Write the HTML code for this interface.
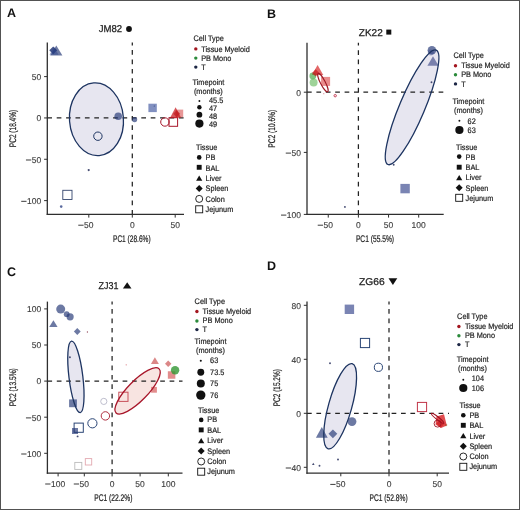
<!DOCTYPE html><html><head><meta charset="utf-8"><style>html,body{margin:0;padding:0;background:#fff;}svg{display:block;will-change:transform;}text{font-family:"Liberation Sans",sans-serif;text-rendering:geometricPrecision;}</style></head><body>
<svg width="520" height="510" viewBox="0 0 520 510">
<rect x="0" y="0" width="520" height="510" fill="#fff"/>
<ellipse cx="96.46" cy="119.25" rx="26.98" ry="36.4" transform="rotate(-4.37 96.46 119.25)" fill="#e7e6f0"/>
<line x1="132.3" y1="42.6" x2="132.3" y2="214.4" stroke="#222" stroke-width="1.25" stroke-dasharray="4.7 4.7" stroke-dashoffset="1.9"/>
<line x1="47.3" y1="117.95" x2="184" y2="117.95" stroke="#222" stroke-width="1.25" stroke-dasharray="4.7 4.7"/>
<polygon points="56.3,45.4 62.4,55.6 50.2,55.6" fill="rgba(32,52,115,0.66)"/>
<polygon points="53.2,46.4 57.1,50.3 53.2,54.2 49.3,50.3" fill="rgba(25,45,110,0.8)"/>
<polygon points="54,46.8 58.5,54.8 49.5,54.8" fill="rgba(45,70,140,0.5)"/>
<circle cx="118.2" cy="116.2" r="3.8" fill="rgba(32,52,115,0.66)"/>
<circle cx="134.6" cy="119.6" r="2.6" fill="rgba(32,52,115,0.66)"/>
<circle cx="97.9" cy="136.2" r="4.2" fill="none" stroke="#1d3461" stroke-width="1.0"/>
<circle cx="88.7" cy="170.1" r="1.1" fill="rgba(50,58,100,0.9)"/>
<rect x="62.8" y="190.3" width="9.2" height="9.2" fill="none" stroke="#34466e" stroke-width="0.9"/>
<circle cx="61.2" cy="206.6" r="1.3" fill="rgba(50,70,135,0.8)"/>
<rect x="148.4" y="103.7" width="8.4" height="8.4" fill="rgba(45,70,150,0.6)"/>
<circle cx="154.3" cy="106" r="0.6" fill="rgba(30,50,110,0.8)"/>
<circle cx="164.9" cy="122" r="4.2" fill="none" stroke="#a8162a" stroke-width="1.0"/>
<rect x="169" y="117.7" width="8.6" height="8.6" fill="none" stroke="#a8162a" stroke-width="1.0"/>
<rect x="175.6" y="109.6" width="7.6" height="7.6" fill="rgba(215,80,80,0.6)"/>
<polygon points="175.6,107.25 181.1,117.75 170.1,117.75" fill="rgba(200,25,30,0.72)"/>
<polygon points="176.7,110.3 180.2,113.8 176.7,117.3 173.2,113.8" fill="rgba(190,20,25,0.6)"/>
<ellipse cx="96.46" cy="119.25" rx="26.98" ry="36.4" transform="rotate(-4.37 96.46 119.25)" fill="none" stroke="#1d3461" stroke-width="1.3"/>
<line x1="47.3" y1="42.6" x2="47.3" y2="215" stroke="#2e2e2e" stroke-width="1.3"/>
<line x1="46.7" y1="214.4" x2="184" y2="214.4" stroke="#2e2e2e" stroke-width="1.3"/>
<line x1="44.1" y1="76.62" x2="47.3" y2="76.62" stroke="#2e2e2e" stroke-width="1.0"/>
<text x="41.2" y="79.92" font-size="8.5" fill="#3c3c3c" text-anchor="end" stroke="#3c3c3c" stroke-width="0.12">50</text>
<line x1="44.1" y1="117.95" x2="47.3" y2="117.95" stroke="#2e2e2e" stroke-width="1.0"/>
<text x="41.2" y="121.25" font-size="8.5" fill="#3c3c3c" text-anchor="end" stroke="#3c3c3c" stroke-width="0.12">0</text>
<line x1="44.1" y1="159.28" x2="47.3" y2="159.28" stroke="#2e2e2e" stroke-width="1.0"/>
<text x="41.2" y="162.59" font-size="8.5" fill="#3c3c3c" text-anchor="end" stroke="#3c3c3c" stroke-width="0.12">50</text>
<rect x="25.95" y="159.49" width="5.3" height="1.0" fill="#3c3c3c"/>
<line x1="44.1" y1="200.62" x2="47.3" y2="200.62" stroke="#2e2e2e" stroke-width="1.0"/>
<text x="41.2" y="203.92" font-size="8.5" fill="#3c3c3c" text-anchor="end" stroke="#3c3c3c" stroke-width="0.12">100</text>
<rect x="21.22" y="200.82" width="5.3" height="1.0" fill="#3c3c3c"/>
<line x1="88.8" y1="214.4" x2="88.8" y2="217.6" stroke="#2e2e2e" stroke-width="1.0"/>
<text x="88.8" y="227.8" font-size="8.5" fill="#3c3c3c" text-anchor="middle" stroke="#3c3c3c" stroke-width="0.12">50</text>
<rect x="78.27" y="224.7" width="5.3" height="1.0" fill="#3c3c3c"/>
<line x1="132.3" y1="214.4" x2="132.3" y2="217.6" stroke="#2e2e2e" stroke-width="1.0"/>
<text x="132.3" y="227.8" font-size="8.5" fill="#3c3c3c" text-anchor="middle" stroke="#3c3c3c" stroke-width="0.12">0</text>
<line x1="175.2" y1="214.4" x2="175.2" y2="217.6" stroke="#2e2e2e" stroke-width="1.0"/>
<text x="175.2" y="227.8" font-size="8.5" fill="#3c3c3c" text-anchor="middle" stroke="#3c3c3c" stroke-width="0.12">50</text>
<text x="131.8" y="241.5" font-size="9.6" fill="#1e1e1e" text-anchor="middle" textLength="37.6" lengthAdjust="spacingAndGlyphs" stroke="#1e1e1e" stroke-width="0.22">PC1 (28.6%)</text>
<text transform="translate(16.2 128.5) rotate(-90)" font-size="9.6" fill="#1e1e1e" stroke="#1e1e1e" stroke-width="0.22" text-anchor="middle" textLength="37.4" lengthAdjust="spacingAndGlyphs">PC2 (18.4%)</text>
<text x="98.8" y="31.9" font-size="9.9" fill="#1e1e1e" textLength="23.4" lengthAdjust="spacingAndGlyphs" stroke="#1e1e1e" stroke-width="0.25">JM82</text>
<circle cx="129" cy="29" r="2.9" fill="#111"/>
<text x="7" y="17.4" font-size="12.5" fill="#111" font-weight="bold">A</text>
<text transform="translate(193.5 41) scale(0.915 1)" font-size="8.0" fill="#1e1e1e" stroke="#1e1e1e" stroke-width="0.2">Cell Type</text>
<circle cx="195.8" cy="48.9" r="1.7" fill="#a3161f"/>
<text transform="translate(201.2 51.7) scale(0.915 1)" font-size="8.0" fill="#1e1e1e" stroke="#1e1e1e" stroke-width="0.2">Tissue Myeloid</text>
<circle cx="195.8" cy="58.1" r="1.7" fill="#2a8a3a"/>
<text transform="translate(201.2 60.9) scale(0.915 1)" font-size="8.0" fill="#1e1e1e" stroke="#1e1e1e" stroke-width="0.2">PB Mono</text>
<circle cx="195.8" cy="67.1" r="1.7" fill="#1c2645"/>
<text transform="translate(201.2 69.8) scale(0.915 1)" font-size="8.0" fill="#1e1e1e" stroke="#1e1e1e" stroke-width="0.2">T</text>
<text transform="translate(192.5 84.9) scale(0.915 1)" font-size="8.0" fill="#1e1e1e" stroke="#1e1e1e" stroke-width="0.2">Timepoint</text>
<text transform="translate(193.9 94.2) scale(0.915 1)" font-size="8.0" fill="#1e1e1e" stroke="#1e1e1e" stroke-width="0.2">(months)</text>
<circle cx="199.4" cy="101" r="0.95" fill="#111"/>
<text transform="translate(209 103.3) scale(0.915 1)" font-size="8.0" fill="#1e1e1e" stroke="#1e1e1e" stroke-width="0.2">45.5</text>
<circle cx="199.4" cy="107.2" r="2.2" fill="#111"/>
<text transform="translate(209 110.6) scale(0.915 1)" font-size="8.0" fill="#1e1e1e" stroke="#1e1e1e" stroke-width="0.2">47</text>
<circle cx="199.4" cy="114.7" r="2.9" fill="#111"/>
<text transform="translate(209 118.5) scale(0.915 1)" font-size="8.0" fill="#1e1e1e" stroke="#1e1e1e" stroke-width="0.2">48</text>
<circle cx="199.4" cy="123.6" r="4.1" fill="#111"/>
<text transform="translate(209 127) scale(0.915 1)" font-size="8.0" fill="#1e1e1e" stroke="#1e1e1e" stroke-width="0.2">49</text>
<text transform="translate(196 150.1) scale(0.915 1)" font-size="8.0" fill="#1e1e1e" stroke="#1e1e1e" stroke-width="0.2">Tissue</text>
<circle cx="199.2" cy="157.4" r="2.3" fill="#111"/>
<text transform="translate(205.6 159.8) scale(0.915 1)" font-size="8.0" fill="#1e1e1e" stroke="#1e1e1e" stroke-width="0.2">PB</text>
<rect x="196.75" y="164.85" width="4.9" height="4.9" fill="#111"/>
<text transform="translate(205.6 170.8) scale(0.915 1)" font-size="8.0" fill="#1e1e1e" stroke="#1e1e1e" stroke-width="0.2">BAL</text>
<polygon points="199.2,175.55 202.3,180.85 196.1,180.85" fill="#111"/>
<text transform="translate(205.6 181) scale(0.915 1)" font-size="8.0" fill="#1e1e1e" stroke="#1e1e1e" stroke-width="0.2">Liver</text>
<polygon points="199.2,185.1 202.7,188.6 199.2,192.1 195.7,188.6" fill="#111"/>
<text transform="translate(205.6 191.4) scale(0.915 1)" font-size="8.0" fill="#1e1e1e" stroke="#1e1e1e" stroke-width="0.2">Spleen</text>
<circle cx="199.2" cy="198.9" r="3.5" fill="none" stroke="#111" stroke-width="0.9"/>
<text transform="translate(205.6 201.5) scale(0.915 1)" font-size="8.0" fill="#1e1e1e" stroke="#1e1e1e" stroke-width="0.2">Colon</text>
<rect x="195.7" y="205.8" width="7" height="7" fill="none" stroke="#111" stroke-width="0.9"/>
<text transform="translate(205.6 212) scale(0.915 1)" font-size="8.0" fill="#1e1e1e" stroke="#1e1e1e" stroke-width="0.2">Jejunum</text>
<ellipse cx="412.08" cy="107.29" rx="12.6" ry="62.1" transform="rotate(22.85 412.08 107.29)" fill="#e7e6f0"/>
<line x1="358.4" y1="42.7" x2="358.4" y2="214.4" stroke="#222" stroke-width="1.25" stroke-dasharray="4.7 4.7" stroke-dashoffset="1.9"/>
<line x1="307" y1="92.2" x2="443.7" y2="92.2" stroke="#222" stroke-width="1.25" stroke-dasharray="4.7 4.7"/>
<polygon points="317.6,65.1 323.3,74.9 311.9,74.9" fill="rgba(215,40,40,0.7)"/>
<rect x="321.1" y="76.9" width="9" height="9" fill="rgba(220,70,70,0.62)"/>
<circle cx="312.8" cy="76" r="3.4" fill="rgba(50,160,50,0.62)"/>
<circle cx="313.6" cy="82.6" r="4" fill="rgba(80,175,70,0.55)"/>
<polygon points="315.6,69.3 319.2,72.9 315.6,76.5 312,72.9" fill="rgba(200,25,30,0.7)"/>
<ellipse cx="322.9" cy="82.6" rx="2.4" ry="10.3" transform="rotate(-27.5 322.9 82.6)" fill="none" stroke="#9e1a26" stroke-width="1.1"/>
<circle cx="335.2" cy="95.7" r="1.2" fill="none" stroke="#c0304a" stroke-width="0.9"/>
<circle cx="323.8" cy="93.7" r="0.6" fill="rgba(200,60,80,0.6)"/>
<circle cx="431.9" cy="50.2" r="4.3" fill="rgba(32,52,115,0.66)"/>
<circle cx="430.8" cy="52.4" r="3" fill="rgba(40,60,130,0.35)"/>
<polygon points="433,56.15 438.6,65.85 427.4,65.85" fill="rgba(70,80,140,0.68)"/>
<circle cx="431.5" cy="82.2" r="0.95" fill="rgba(50,58,100,0.9)"/>
<circle cx="393.7" cy="164.7" r="0.95" fill="rgba(50,58,100,0.9)"/>
<rect x="400.4" y="183.9" width="9.4" height="9.4" fill="rgba(70,85,150,0.72)"/>
<circle cx="344.9" cy="206.9" r="0.95" fill="rgba(50,58,100,0.9)"/>
<ellipse cx="412.08" cy="107.29" rx="12.6" ry="62.1" transform="rotate(22.85 412.08 107.29)" fill="none" stroke="#1d3461" stroke-width="1.3"/>
<line x1="307" y1="42.7" x2="307" y2="215" stroke="#2e2e2e" stroke-width="1.3"/>
<line x1="306.4" y1="214.4" x2="443.7" y2="214.4" stroke="#2e2e2e" stroke-width="1.3"/>
<line x1="303.8" y1="92.2" x2="307" y2="92.2" stroke="#2e2e2e" stroke-width="1.0"/>
<text x="301" y="95.5" font-size="8.5" fill="#3c3c3c" text-anchor="end" stroke="#3c3c3c" stroke-width="0.12">0</text>
<line x1="303.8" y1="152.4" x2="307" y2="152.4" stroke="#2e2e2e" stroke-width="1.0"/>
<text x="301" y="155.7" font-size="8.5" fill="#3c3c3c" text-anchor="end" stroke="#3c3c3c" stroke-width="0.12">50</text>
<rect x="285.75" y="152.6" width="5.3" height="1.0" fill="#3c3c3c"/>
<line x1="303.8" y1="214.4" x2="307" y2="214.4" stroke="#2e2e2e" stroke-width="1.0"/>
<text x="301" y="217.7" font-size="8.5" fill="#3c3c3c" text-anchor="end" stroke="#3c3c3c" stroke-width="0.12">100</text>
<rect x="281.02" y="214.6" width="5.3" height="1.0" fill="#3c3c3c"/>
<line x1="328.25" y1="214.4" x2="328.25" y2="217.6" stroke="#2e2e2e" stroke-width="1.0"/>
<text x="328.25" y="227.8" font-size="8.5" fill="#3c3c3c" text-anchor="middle" stroke="#3c3c3c" stroke-width="0.12">50</text>
<rect x="317.72" y="224.7" width="5.3" height="1.0" fill="#3c3c3c"/>
<line x1="358.4" y1="214.4" x2="358.4" y2="217.6" stroke="#2e2e2e" stroke-width="1.0"/>
<text x="358.4" y="227.8" font-size="8.5" fill="#3c3c3c" text-anchor="middle" stroke="#3c3c3c" stroke-width="0.12">0</text>
<line x1="388.55" y1="214.4" x2="388.55" y2="217.6" stroke="#2e2e2e" stroke-width="1.0"/>
<text x="388.55" y="227.8" font-size="8.5" fill="#3c3c3c" text-anchor="middle" stroke="#3c3c3c" stroke-width="0.12">50</text>
<line x1="418.7" y1="214.4" x2="418.7" y2="217.6" stroke="#2e2e2e" stroke-width="1.0"/>
<text x="418.7" y="227.8" font-size="8.5" fill="#3c3c3c" text-anchor="middle" stroke="#3c3c3c" stroke-width="0.12">100</text>
<text x="375" y="241.5" font-size="9.6" fill="#1e1e1e" text-anchor="middle" textLength="38.2" lengthAdjust="spacingAndGlyphs" stroke="#1e1e1e" stroke-width="0.22">PC1 (55.5%)</text>
<text transform="translate(275.3 128.75) rotate(-90)" font-size="9.6" fill="#1e1e1e" stroke="#1e1e1e" stroke-width="0.22" text-anchor="middle" textLength="37.9" lengthAdjust="spacingAndGlyphs">PC2 (10.6%)</text>
<text x="358.8" y="35.7" font-size="9.9" fill="#1e1e1e" textLength="23.9" lengthAdjust="spacingAndGlyphs" stroke="#1e1e1e" stroke-width="0.25">ZK22</text>
<rect x="386.3" y="29.6" width="5" height="5" fill="#111"/>
<text x="266.9" y="17.6" font-size="12.5" fill="#111" font-weight="bold">B</text>
<text transform="translate(453.5 58.1) scale(0.915 1)" font-size="8.0" fill="#1e1e1e" stroke="#1e1e1e" stroke-width="0.2">Cell Type</text>
<circle cx="455.5" cy="65.8" r="1.7" fill="#a3161f"/>
<text transform="translate(461.2 68.4) scale(0.915 1)" font-size="8.0" fill="#1e1e1e" stroke="#1e1e1e" stroke-width="0.2">Tissue Myeloid</text>
<circle cx="455.5" cy="74.7" r="1.7" fill="#2a8a3a"/>
<text transform="translate(461.2 77.3) scale(0.915 1)" font-size="8.0" fill="#1e1e1e" stroke="#1e1e1e" stroke-width="0.2">PB Mono</text>
<circle cx="455.5" cy="83.9" r="1.7" fill="#1c2645"/>
<text transform="translate(461.2 86.5) scale(0.915 1)" font-size="8.0" fill="#1e1e1e" stroke="#1e1e1e" stroke-width="0.2">T</text>
<text transform="translate(452.5 103.5) scale(0.915 1)" font-size="8.0" fill="#1e1e1e" stroke="#1e1e1e" stroke-width="0.2">Timepoint</text>
<text transform="translate(454 112.8) scale(0.915 1)" font-size="8.0" fill="#1e1e1e" stroke="#1e1e1e" stroke-width="0.2">(months)</text>
<circle cx="459.4" cy="120.7" r="0.95" fill="#111"/>
<text transform="translate(467.6 123.5) scale(0.915 1)" font-size="8.0" fill="#1e1e1e" stroke="#1e1e1e" stroke-width="0.2">62</text>
<circle cx="459.4" cy="130" r="4.1" fill="#111"/>
<text transform="translate(467.6 133.2) scale(0.915 1)" font-size="8.0" fill="#1e1e1e" stroke="#1e1e1e" stroke-width="0.2">63</text>
<text transform="translate(456 149.6) scale(0.915 1)" font-size="8.0" fill="#1e1e1e" stroke="#1e1e1e" stroke-width="0.2">Tissue</text>
<circle cx="459.2" cy="156.6" r="2.3" fill="#111"/>
<text transform="translate(465.6 159.6) scale(0.915 1)" font-size="8.0" fill="#1e1e1e" stroke="#1e1e1e" stroke-width="0.2">PB</text>
<rect x="456.75" y="164.75" width="4.9" height="4.9" fill="#111"/>
<text transform="translate(465.6 169.9) scale(0.915 1)" font-size="8.0" fill="#1e1e1e" stroke="#1e1e1e" stroke-width="0.2">BAL</text>
<polygon points="459.2,174.95 462.3,180.25 456.1,180.25" fill="#111"/>
<text transform="translate(465.6 180.2) scale(0.915 1)" font-size="8.0" fill="#1e1e1e" stroke="#1e1e1e" stroke-width="0.2">Liver</text>
<polygon points="459.2,184.2 462.7,187.7 459.2,191.2 455.7,187.7" fill="#111"/>
<text transform="translate(465.6 190.5) scale(0.915 1)" font-size="8.0" fill="#1e1e1e" stroke="#1e1e1e" stroke-width="0.2">Spleen</text>
<rect x="455.7" y="194.3" width="7" height="7" fill="none" stroke="#111" stroke-width="0.9"/>
<text transform="translate(465.6 200.5) scale(0.915 1)" font-size="8.0" fill="#1e1e1e" stroke="#1e1e1e" stroke-width="0.2">Jejunum</text>
<ellipse cx="75.9" cy="376.88" rx="6.93" ry="36.03" transform="rotate(-6.95 75.9 376.88)" fill="#e7e6f0"/>
<ellipse cx="137.6" cy="390.9" rx="9.9" ry="30.8" transform="rotate(44.29 137.6 390.9)" fill="#f8e4e1"/>
<line x1="112.1" y1="301.6" x2="112.1" y2="473.2" stroke="#222" stroke-width="1.25" stroke-dasharray="4.7 4.7" stroke-dashoffset="1.9"/>
<line x1="47.4" y1="381.1" x2="182.5" y2="381.1" stroke="#222" stroke-width="1.25" stroke-dasharray="4.7 4.7"/>
<circle cx="60.7" cy="309.1" r="4.5" fill="rgba(32,52,115,0.66)"/>
<circle cx="66.7" cy="314.2" r="2.9" fill="rgba(32,52,115,0.66)"/>
<circle cx="70.1" cy="316.8" r="3.6" fill="rgba(32,52,115,0.66)"/>
<polygon points="53.4,320.2 57.6,327 49.2,327" fill="rgba(32,52,115,0.66)"/>
<polygon points="77.3,328.1 80.7,331.5 77.3,334.9 73.9,331.5" fill="rgba(32,52,115,0.66)"/>
<circle cx="87.4" cy="332" r="0.65" fill="rgba(120,30,50,0.8)"/>
<circle cx="69.9" cy="357.3" r="0.95" fill="rgba(50,58,100,0.9)"/>
<circle cx="126.2" cy="364.8" r="0.6" fill="rgba(200,60,70,0.7)"/>
<rect x="69.1" y="399.4" width="7.8" height="7.8" fill="rgba(32,52,115,0.66)"/>
<circle cx="103.8" cy="401.4" r="3.1" fill="none" stroke="#b8b8c8" stroke-width="0.9"/>
<circle cx="105.4" cy="415.9" r="4.2" fill="none" stroke="#b03040" stroke-width="1.0"/>
<circle cx="92.4" cy="423.3" r="4.6" fill="none" stroke="#2a4575" stroke-width="1.0"/>
<rect x="74.1" y="423.1" width="9.2" height="9.2" fill="none" stroke="#2a4575" stroke-width="1.0"/>
<rect x="72" y="428" width="6" height="6" fill="rgba(32,52,115,0.66)"/>
<circle cx="77.6" cy="436.4" r="0.95" fill="rgba(50,58,100,0.9)"/>
<rect x="74.8" y="462.4" width="7" height="7" fill="none" stroke="#bbbbbb" stroke-width="0.9"/>
<rect x="85.3" y="458.6" width="6.4" height="6.4" fill="none" stroke="#e2a8b0" stroke-width="0.9"/>
<polygon points="154.9,357.3 158.9,363.9 150.9,363.9" fill="rgba(200,70,70,0.65)"/>
<polygon points="168.2,360.6 171.4,363.8 168.2,367 165,363.8" fill="rgba(200,70,70,0.65)"/>
<rect x="167.85" y="371.25" width="7.5" height="7.5" fill="rgba(210,80,80,0.65)"/>
<circle cx="175.1" cy="370.3" r="4.2" fill="rgba(50,150,50,0.8)"/>
<rect x="151.1" y="386.9" width="5.8" height="5.8" fill="rgba(210,80,80,0.65)"/>
<rect x="118.8" y="392.2" width="9.2" height="9.2" fill="none" stroke="#c8505a" stroke-width="1.0"/>
<ellipse cx="75.9" cy="376.88" rx="6.93" ry="36.03" transform="rotate(-6.95 75.9 376.88)" fill="none" stroke="#1d3461" stroke-width="1.3"/>
<ellipse cx="137.6" cy="390.9" rx="9.9" ry="30.8" transform="rotate(44.29 137.6 390.9)" fill="none" stroke="#a8162a" stroke-width="1.3"/>
<line x1="47.4" y1="301.6" x2="47.4" y2="473.8" stroke="#2e2e2e" stroke-width="1.3"/>
<line x1="46.8" y1="473.2" x2="182.5" y2="473.2" stroke="#2e2e2e" stroke-width="1.3"/>
<line x1="44.2" y1="308.9" x2="47.4" y2="308.9" stroke="#2e2e2e" stroke-width="1.0"/>
<text x="41.2" y="312.2" font-size="8.5" fill="#3c3c3c" text-anchor="end" stroke="#3c3c3c" stroke-width="0.12">100</text>
<line x1="44.2" y1="345" x2="47.4" y2="345" stroke="#2e2e2e" stroke-width="1.0"/>
<text x="41.2" y="348.3" font-size="8.5" fill="#3c3c3c" text-anchor="end" stroke="#3c3c3c" stroke-width="0.12">50</text>
<line x1="44.2" y1="381.1" x2="47.4" y2="381.1" stroke="#2e2e2e" stroke-width="1.0"/>
<text x="41.2" y="384.4" font-size="8.5" fill="#3c3c3c" text-anchor="end" stroke="#3c3c3c" stroke-width="0.12">0</text>
<line x1="44.2" y1="417.2" x2="47.4" y2="417.2" stroke="#2e2e2e" stroke-width="1.0"/>
<text x="41.2" y="420.5" font-size="8.5" fill="#3c3c3c" text-anchor="end" stroke="#3c3c3c" stroke-width="0.12">50</text>
<rect x="25.95" y="417.4" width="5.3" height="1.0" fill="#3c3c3c"/>
<line x1="44.2" y1="453.3" x2="47.4" y2="453.3" stroke="#2e2e2e" stroke-width="1.0"/>
<text x="41.2" y="456.6" font-size="8.5" fill="#3c3c3c" text-anchor="end" stroke="#3c3c3c" stroke-width="0.12">100</text>
<rect x="21.22" y="453.5" width="5.3" height="1.0" fill="#3c3c3c"/>
<line x1="58.1" y1="473.2" x2="58.1" y2="476.4" stroke="#2e2e2e" stroke-width="1.0"/>
<text x="58.1" y="486.6" font-size="8.5" fill="#3c3c3c" text-anchor="middle" stroke="#3c3c3c" stroke-width="0.12">100</text>
<rect x="45.21" y="483.5" width="5.3" height="1.0" fill="#3c3c3c"/>
<line x1="84.3" y1="473.2" x2="84.3" y2="476.4" stroke="#2e2e2e" stroke-width="1.0"/>
<text x="84.3" y="486.6" font-size="8.5" fill="#3c3c3c" text-anchor="middle" stroke="#3c3c3c" stroke-width="0.12">50</text>
<rect x="73.77" y="483.5" width="5.3" height="1.0" fill="#3c3c3c"/>
<line x1="112.1" y1="473.2" x2="112.1" y2="476.4" stroke="#2e2e2e" stroke-width="1.0"/>
<text x="112.1" y="486.6" font-size="8.5" fill="#3c3c3c" text-anchor="middle" stroke="#3c3c3c" stroke-width="0.12">0</text>
<line x1="140.1" y1="473.2" x2="140.1" y2="476.4" stroke="#2e2e2e" stroke-width="1.0"/>
<text x="140.1" y="486.6" font-size="8.5" fill="#3c3c3c" text-anchor="middle" stroke="#3c3c3c" stroke-width="0.12">50</text>
<line x1="168.3" y1="473.2" x2="168.3" y2="476.4" stroke="#2e2e2e" stroke-width="1.0"/>
<text x="168.3" y="486.6" font-size="8.5" fill="#3c3c3c" text-anchor="middle" stroke="#3c3c3c" stroke-width="0.12">100</text>
<text x="113.35" y="501" font-size="9.6" fill="#1e1e1e" text-anchor="middle" textLength="38.2" lengthAdjust="spacingAndGlyphs" stroke="#1e1e1e" stroke-width="0.22">PC1 (22.2%)</text>
<text transform="translate(15.6 387.2) rotate(-90)" font-size="9.6" fill="#1e1e1e" stroke="#1e1e1e" stroke-width="0.22" text-anchor="middle" textLength="37.9" lengthAdjust="spacingAndGlyphs">PC2 (13.5%)</text>
<text x="98.5" y="288.7" font-size="9.9" fill="#1e1e1e" textLength="19.9" lengthAdjust="spacingAndGlyphs" stroke="#1e1e1e" stroke-width="0.25">ZJ31</text>
<polygon points="127.2,282.2 131.5,288.6 122.9,288.6" fill="#111"/>
<text x="6.9" y="275.8" font-size="12.5" fill="#111" font-weight="bold">C</text>
<text transform="translate(194.6 303.5) scale(0.915 1)" font-size="8.0" fill="#1e1e1e" stroke="#1e1e1e" stroke-width="0.2">Cell Type</text>
<circle cx="196.9" cy="311.5" r="1.7" fill="#a3161f"/>
<text transform="translate(202.6 314.1) scale(0.915 1)" font-size="8.0" fill="#1e1e1e" stroke="#1e1e1e" stroke-width="0.2">Tissue Myeloid</text>
<circle cx="196.9" cy="321" r="1.7" fill="#2a8a3a"/>
<text transform="translate(202.6 323.4) scale(0.915 1)" font-size="8.0" fill="#1e1e1e" stroke="#1e1e1e" stroke-width="0.2">PB Mono</text>
<circle cx="196.9" cy="329.6" r="1.7" fill="#1c2645"/>
<text transform="translate(202.6 332.4) scale(0.915 1)" font-size="8.0" fill="#1e1e1e" stroke="#1e1e1e" stroke-width="0.2">T</text>
<text transform="translate(194.6 343.7) scale(0.915 1)" font-size="8.0" fill="#1e1e1e" stroke="#1e1e1e" stroke-width="0.2">Timepoint</text>
<text transform="translate(196 352.5) scale(0.915 1)" font-size="8.0" fill="#1e1e1e" stroke="#1e1e1e" stroke-width="0.2">(months)</text>
<circle cx="200.8" cy="360.8" r="1.05" fill="#111"/>
<text transform="translate(210.1 362.8) scale(0.915 1)" font-size="8.0" fill="#1e1e1e" stroke="#1e1e1e" stroke-width="0.2">63</text>
<circle cx="200.8" cy="372.2" r="3.45" fill="#111"/>
<text transform="translate(210.1 374.5) scale(0.915 1)" font-size="8.0" fill="#1e1e1e" stroke="#1e1e1e" stroke-width="0.2">73.5</text>
<circle cx="200.8" cy="383.4" r="4" fill="#111"/>
<text transform="translate(210.1 385.9) scale(0.915 1)" font-size="8.0" fill="#1e1e1e" stroke="#1e1e1e" stroke-width="0.2">75</text>
<circle cx="200.8" cy="395.1" r="4.65" fill="#111"/>
<text transform="translate(210.1 398.3) scale(0.915 1)" font-size="8.0" fill="#1e1e1e" stroke="#1e1e1e" stroke-width="0.2">76</text>
<text transform="translate(198 412.6) scale(0.915 1)" font-size="8.0" fill="#1e1e1e" stroke="#1e1e1e" stroke-width="0.2">Tissue</text>
<circle cx="201.2" cy="419.9" r="2.3" fill="#111"/>
<text transform="translate(207.3 422.2) scale(0.915 1)" font-size="8.0" fill="#1e1e1e" stroke="#1e1e1e" stroke-width="0.2">PB</text>
<rect x="198.75" y="427.45" width="4.9" height="4.9" fill="#111"/>
<text transform="translate(207.3 432.7) scale(0.915 1)" font-size="8.0" fill="#1e1e1e" stroke="#1e1e1e" stroke-width="0.2">BAL</text>
<polygon points="201.2,438.05 204.3,443.35 198.1,443.35" fill="#111"/>
<text transform="translate(207.3 443.2) scale(0.915 1)" font-size="8.0" fill="#1e1e1e" stroke="#1e1e1e" stroke-width="0.2">Liver</text>
<polygon points="201.2,447.5 204.7,451 201.2,454.5 197.7,451" fill="#111"/>
<text transform="translate(207.3 453.5) scale(0.915 1)" font-size="8.0" fill="#1e1e1e" stroke="#1e1e1e" stroke-width="0.2">Spleen</text>
<circle cx="201.2" cy="461.5" r="3.5" fill="none" stroke="#111" stroke-width="0.9"/>
<text transform="translate(207.3 463.8) scale(0.915 1)" font-size="8.0" fill="#1e1e1e" stroke="#1e1e1e" stroke-width="0.2">Colon</text>
<rect x="197.7" y="468.2" width="7" height="7" fill="none" stroke="#111" stroke-width="0.9"/>
<text transform="translate(207.3 474.1) scale(0.915 1)" font-size="8.0" fill="#1e1e1e" stroke="#1e1e1e" stroke-width="0.2">Jejunum</text>
<ellipse cx="340.15" cy="406.22" rx="11.62" ry="44.2" transform="rotate(15.76 340.15 406.22)" fill="#e7e6f0"/>
<line x1="389" y1="301.6" x2="389" y2="473.1" stroke="#222" stroke-width="1.25" stroke-dasharray="4.7 4.7" stroke-dashoffset="1.9"/>
<line x1="307" y1="413.3" x2="449" y2="413.3" stroke="#222" stroke-width="1.25" stroke-dasharray="4.7 4.7"/>
<rect x="344.7" y="304.6" width="9.4" height="9.4" fill="rgba(70,85,150,0.72)"/>
<rect x="360.4" y="338.4" width="9.2" height="9.2" fill="none" stroke="#2a4575" stroke-width="1.0"/>
<circle cx="378.4" cy="367.3" r="4.1" fill="none" stroke="#2a4575" stroke-width="1.0"/>
<circle cx="330" cy="363.3" r="0.95" fill="rgba(50,58,100,0.9)"/>
<circle cx="352" cy="421.6" r="4.4" fill="rgba(32,52,115,0.66)"/>
<polygon points="321.8,427.1 327.7,437.7 315.9,437.7" fill="rgba(32,52,115,0.66)"/>
<polygon points="332.9,429.4 337.3,433.8 332.9,438.2 328.5,433.8" fill="rgba(32,52,115,0.66)"/>
<polygon points="313.3,462.7 314.6,464.9 312,464.9" fill="rgba(50,58,100,0.9)"/>
<circle cx="319.5" cy="465.8" r="0.95" fill="rgba(50,58,100,0.9)"/>
<circle cx="338" cy="459.5" r="0.95" fill="rgba(50,58,100,0.9)"/>
<rect x="417.4" y="402.4" width="9.2" height="9.2" fill="none" stroke="#c03548" stroke-width="1.0"/>
<circle cx="446" cy="425" r="1.3" fill="rgba(120,160,80,0.6)"/>
<polygon points="436.5,416.5 444,414.2 446.8,425.5 441,428 435.5,424.5" fill="rgba(215,25,30,0.78)"/>
<polygon points="440.5,419.3 444.7,423.5 440.5,427.7 436.3,423.5" fill="rgba(200,20,25,0.6)"/>
<circle cx="437.6" cy="423.6" r="3.5" fill="none" stroke="#a01828" stroke-width="0.9"/>
<ellipse cx="437.6" cy="418.3" rx="1.4" ry="7.8" transform="rotate(-51.6 437.6 418.3)" fill="none" stroke="#a01020" stroke-width="1.1"/>
<ellipse cx="340.15" cy="406.22" rx="11.62" ry="44.2" transform="rotate(15.76 340.15 406.22)" fill="none" stroke="#1d3461" stroke-width="1.3"/>
<line x1="307" y1="301.6" x2="307" y2="473.7" stroke="#2e2e2e" stroke-width="1.3"/>
<line x1="306.4" y1="473.1" x2="449" y2="473.1" stroke="#2e2e2e" stroke-width="1.3"/>
<line x1="303.8" y1="305.3" x2="307" y2="305.3" stroke="#2e2e2e" stroke-width="1.0"/>
<text x="301" y="308.6" font-size="8.5" fill="#3c3c3c" text-anchor="end" stroke="#3c3c3c" stroke-width="0.12">80</text>
<line x1="303.8" y1="359.3" x2="307" y2="359.3" stroke="#2e2e2e" stroke-width="1.0"/>
<text x="301" y="362.6" font-size="8.5" fill="#3c3c3c" text-anchor="end" stroke="#3c3c3c" stroke-width="0.12">40</text>
<line x1="303.8" y1="413.3" x2="307" y2="413.3" stroke="#2e2e2e" stroke-width="1.0"/>
<text x="301" y="416.6" font-size="8.5" fill="#3c3c3c" text-anchor="end" stroke="#3c3c3c" stroke-width="0.12">0</text>
<line x1="303.8" y1="467.3" x2="307" y2="467.3" stroke="#2e2e2e" stroke-width="1.0"/>
<text x="301" y="470.6" font-size="8.5" fill="#3c3c3c" text-anchor="end" stroke="#3c3c3c" stroke-width="0.12">40</text>
<rect x="285.75" y="467.5" width="5.3" height="1.0" fill="#3c3c3c"/>
<line x1="340.8" y1="473.1" x2="340.8" y2="476.3" stroke="#2e2e2e" stroke-width="1.0"/>
<text x="340.8" y="487" font-size="8.5" fill="#3c3c3c" text-anchor="middle" stroke="#3c3c3c" stroke-width="0.12">50</text>
<rect x="330.27" y="483.9" width="5.3" height="1.0" fill="#3c3c3c"/>
<line x1="389" y1="473.1" x2="389" y2="476.3" stroke="#2e2e2e" stroke-width="1.0"/>
<text x="389" y="487" font-size="8.5" fill="#3c3c3c" text-anchor="middle" stroke="#3c3c3c" stroke-width="0.12">0</text>
<line x1="437.2" y1="473.1" x2="437.2" y2="476.3" stroke="#2e2e2e" stroke-width="1.0"/>
<text x="437.2" y="487" font-size="8.5" fill="#3c3c3c" text-anchor="middle" stroke="#3c3c3c" stroke-width="0.12">50</text>
<text x="388.6" y="500.5" font-size="9.6" fill="#1e1e1e" text-anchor="middle" textLength="38.0" lengthAdjust="spacingAndGlyphs" stroke="#1e1e1e" stroke-width="0.22">PC1 (52.8%)</text>
<text transform="translate(279.8 387.7) rotate(-90)" font-size="9.6" fill="#1e1e1e" stroke="#1e1e1e" stroke-width="0.22" text-anchor="middle" textLength="37.0" lengthAdjust="spacingAndGlyphs">PC2 (15.2%)</text>
<text x="359.1" y="284.8" font-size="9.9" fill="#1e1e1e" textLength="25.7" lengthAdjust="spacingAndGlyphs" stroke="#1e1e1e" stroke-width="0.25">ZG66</text>
<polygon points="392.9,284.9 397.3,278.3 388.5,278.3" fill="#111"/>
<text x="267" y="270.2" font-size="12.5" fill="#111" font-weight="bold">D</text>
<text transform="translate(457.1 318.9) scale(0.915 1)" font-size="8.0" fill="#1e1e1e" stroke="#1e1e1e" stroke-width="0.2">Cell Type</text>
<circle cx="458.9" cy="326.5" r="1.7" fill="#a3161f"/>
<text transform="translate(464.9 329.1) scale(0.915 1)" font-size="8.0" fill="#1e1e1e" stroke="#1e1e1e" stroke-width="0.2">Tissue Myeloid</text>
<circle cx="458.9" cy="335.7" r="1.7" fill="#2a8a3a"/>
<text transform="translate(464.9 338.4) scale(0.915 1)" font-size="8.0" fill="#1e1e1e" stroke="#1e1e1e" stroke-width="0.2">PB Mono</text>
<circle cx="458.9" cy="344.6" r="1.7" fill="#1c2645"/>
<text transform="translate(464.9 347.4) scale(0.915 1)" font-size="8.0" fill="#1e1e1e" stroke="#1e1e1e" stroke-width="0.2">T</text>
<text transform="translate(456.7 361.9) scale(0.915 1)" font-size="8.0" fill="#1e1e1e" stroke="#1e1e1e" stroke-width="0.2">Timepoint</text>
<text transform="translate(458 370.8) scale(0.915 1)" font-size="8.0" fill="#1e1e1e" stroke="#1e1e1e" stroke-width="0.2">(months)</text>
<circle cx="463.3" cy="379.7" r="0.95" fill="#111"/>
<text transform="translate(471.8 380.8) scale(0.915 1)" font-size="8.0" fill="#1e1e1e" stroke="#1e1e1e" stroke-width="0.2">104</text>
<circle cx="463.3" cy="388" r="4.1" fill="#111"/>
<text transform="translate(471.8 390.7) scale(0.915 1)" font-size="8.0" fill="#1e1e1e" stroke="#1e1e1e" stroke-width="0.2">106</text>
<text transform="translate(459.4 408.3) scale(0.915 1)" font-size="8.0" fill="#1e1e1e" stroke="#1e1e1e" stroke-width="0.2">Tissue</text>
<circle cx="463.3" cy="415.3" r="2.3" fill="#111"/>
<text transform="translate(469.4 417.6) scale(0.915 1)" font-size="8.0" fill="#1e1e1e" stroke="#1e1e1e" stroke-width="0.2">PB</text>
<rect x="460.85" y="422.85" width="4.9" height="4.9" fill="#111"/>
<text transform="translate(469.4 428.1) scale(0.915 1)" font-size="8.0" fill="#1e1e1e" stroke="#1e1e1e" stroke-width="0.2">BAL</text>
<polygon points="463.3,433.05 466.4,438.35 460.2,438.35" fill="#111"/>
<text transform="translate(469.4 438.6) scale(0.915 1)" font-size="8.0" fill="#1e1e1e" stroke="#1e1e1e" stroke-width="0.2">Liver</text>
<polygon points="463.3,442.7 466.8,446.2 463.3,449.7 459.8,446.2" fill="#111"/>
<text transform="translate(469.4 448.9) scale(0.915 1)" font-size="8.0" fill="#1e1e1e" stroke="#1e1e1e" stroke-width="0.2">Spleen</text>
<circle cx="463.3" cy="456.5" r="3.5" fill="none" stroke="#111" stroke-width="0.9"/>
<text transform="translate(469.4 458.8) scale(0.915 1)" font-size="8.0" fill="#1e1e1e" stroke="#1e1e1e" stroke-width="0.2">Colon</text>
<rect x="459.8" y="463.3" width="7" height="7" fill="none" stroke="#111" stroke-width="0.9"/>
<text transform="translate(469.4 469.2) scale(0.915 1)" font-size="8.0" fill="#1e1e1e" stroke="#1e1e1e" stroke-width="0.2">Jejunum</text>
<rect x="0.5" y="0.5" width="519" height="509" fill="none" stroke="#525252" stroke-width="1"/>
</svg></body></html>
